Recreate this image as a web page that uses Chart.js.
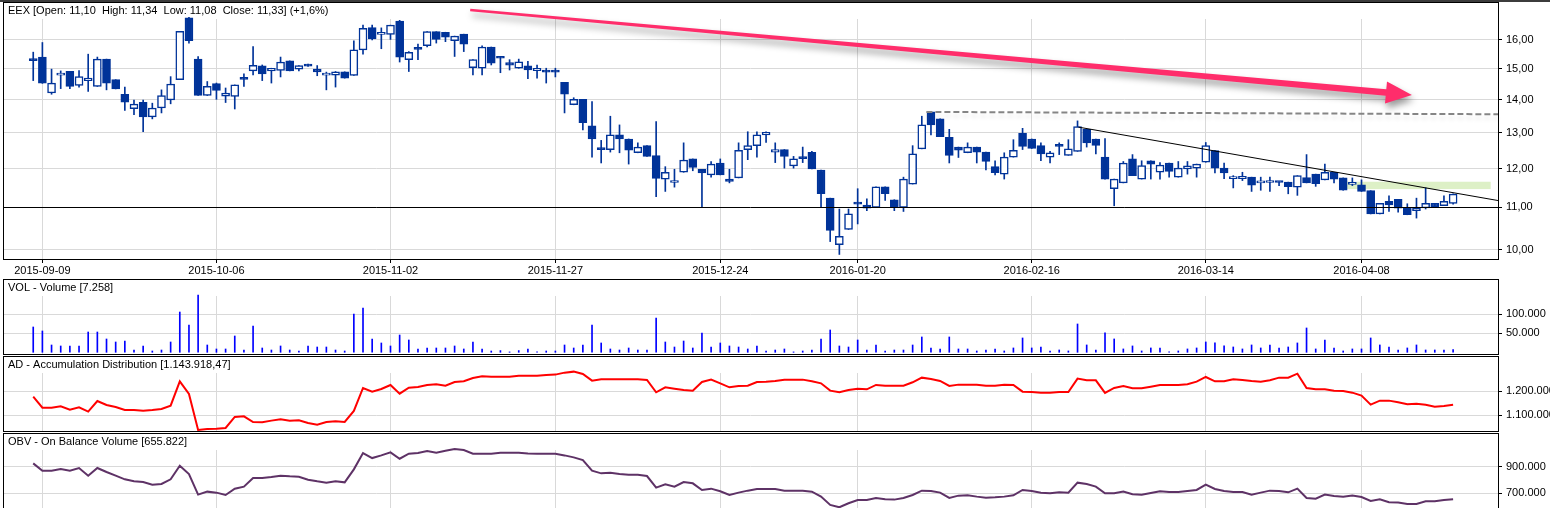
<!DOCTYPE html>
<html>
<head>
<meta charset="utf-8">
<title>EEX</title>
<script src="https://cdn.jsdelivr.net/npm/chart.js@4.4.1/dist/chart.umd.min.js"></script>
<style>
  html, body { margin: 0; padding: 0; background: #fff; overflow: hidden; }
  #wrap { position: relative; width: 1550px; height: 508px; background: #fff; }
  #topbar { position: absolute; left: 0; top: 0; width: 1550px; height: 2px; background: #3c3c3c; }
  canvas { position: absolute; left: 0; }
</style>
</head>
<body>
<div id="wrap">
  <canvas id="cMain" width="1550" height="279" style="top:0px"></canvas>
  <canvas id="cVol" width="1550" height="76" style="top:279px"></canvas>
  <canvas id="cAd" width="1550" height="76" style="top:356px"></canvas>
  <canvas id="cObv" width="1550" height="75" style="top:433px"></canvas>
  <div id="topbar"></div>
</div>
<script>
// ---- daily prices (one entry per trading session) ----
const open = [
  15.33,15.40,14.21,14.79,14.92,14.45,14.61,14.42,15.33,14.64,14.17,13.72,13.92,13.47,13.74,13.99,14.64,16.81,15.33,14.13,
  14.51,14.11,14.10,14.69,14.93,15.10,14.93,14.95,15.27,14.99,15.13,14.99,14.79,14.79,14.90,14.78,15.65,16.45,16.20,16.20,
  16.69,15.31,15.71,15.80,16.30,16.28,15.98,16.21,15.04,15.02,15.75,15.40,15.21,15.02,15.10,14.94,14.93,14.93,14.55,13.84,
  14.01,13.20,12.56,12.52,12.94,12.82,12.43,12.63,12.35,11.72,11.63,11.90,12.26,11.98,11.83,12.15,11.72,11.75,12.52,12.63,
  12.94,12.45,12.52,12.07,12.31,12.44,11.96,11.23,10.12,10.47,11.10,11.06,11.00,11.52,11.19,11.00,11.59,12.54,13.62,13.41,
  12.87,12.59,12.43,12.59,12.45,12.05,11.85,12.31,12.98,12.82,12.63,12.31,12.65,12.36,12.47,13.10,12.82,12.31,11.47,11.62,
  12.26,11.72,12.21,11.90,12.15,11.77,11.99,12.01,12.17,12.49,12.01,11.73,11.73,11.77,11.62,11.63,11.65,11.64,11.51,11.76,
  11.85,11.70,11.90,11.75,11.58,11.57,11.42,10.84,11.15,11.20,10.99,10.92,10.99,11.10,11.04,11.10
];
const high = [
  15.57,15.91,14.99,14.93,14.92,14.94,15.50,15.40,15.33,14.64,14.40,13.99,13.99,13.89,14.31,14.74,16.31,16.83,15.42,14.58,
  14.53,14.37,14.47,14.83,15.77,15.13,15.02,15.40,15.27,15.11,15.16,15.11,14.89,14.91,14.90,15.97,16.54,16.54,16.44,16.54,
  16.72,15.59,15.85,16.30,16.30,16.28,16.14,16.21,15.31,15.79,15.75,15.40,15.31,15.33,15.25,15.13,15.02,15.02,14.55,14.06,
  14.01,13.94,12.78,13.49,13.23,12.82,12.71,12.63,13.33,12.05,11.98,12.71,12.26,11.98,12.19,12.26,11.98,12.71,13.03,13.03,
  13.03,12.71,12.52,12.33,12.59,12.47,11.96,11.23,10.96,10.96,11.47,11.21,11.52,11.52,11.19,11.77,12.63,13.49,13.62,13.41,
  13.10,12.59,12.71,12.59,12.45,12.21,12.43,12.80,13.13,12.82,12.71,12.47,12.71,12.80,13.35,13.10,12.82,12.83,11.72,12.19,
  12.38,12.21,12.21,12.16,12.15,12.19,12.19,12.12,12.72,12.49,12.15,11.81,11.90,11.77,11.77,11.77,11.65,11.64,11.81,12.38,
  11.85,12.12,11.90,11.75,11.75,11.70,11.42,11.10,11.29,11.20,11.09,11.23,11.49,11.10,11.29,11.34
];
const low = [
  14.61,14.52,14.17,14.35,14.35,14.40,14.26,14.42,14.31,14.34,13.67,13.54,13.03,13.41,13.59,13.87,14.64,15.89,14.13,14.13,
  14.01,13.91,13.71,14.42,14.80,14.61,14.53,14.73,14.93,14.93,15.08,14.77,14.31,14.40,14.69,14.78,15.50,16.00,15.69,16.02,
  15.23,14.91,15.31,15.75,15.89,15.94,15.42,15.59,14.80,14.80,15.13,14.87,14.96,15.02,14.67,14.69,14.53,14.73,13.59,13.84,
  13.08,12.31,12.15,12.45,12.43,12.12,12.43,12.33,11.27,11.40,11.51,11.90,11.94,11.02,11.77,11.83,11.62,11.75,12.24,12.31,
  12.72,12.16,12.01,12.01,12.16,11.99,11.00,10.19,9.90,10.47,10.60,10.92,11.00,11.17,10.92,10.90,11.59,12.54,12.94,12.89,
  12.15,12.30,12.43,12.15,11.96,11.83,11.72,12.31,12.52,12.55,12.21,12.15,12.38,12.36,12.47,12.59,12.40,11.72,11.04,11.62,
  11.81,11.72,11.72,11.72,11.77,11.77,11.85,11.77,12.17,11.88,11.73,11.49,11.68,11.40,11.43,11.40,11.55,11.34,11.30,11.62,
  11.53,11.70,11.62,11.43,11.55,11.40,10.84,10.84,10.90,10.88,10.82,10.74,10.96,11.02,11.04,11.08
];
const close = [
  15.28,14.53,14.53,14.79,14.42,14.74,14.69,15.33,14.53,14.34,13.92,13.86,13.47,13.74,14.13,14.50,16.31,15.98,14.13,14.42,
  14.29,14.21,14.47,14.65,15.12,14.83,15.02,15.23,14.93,15.11,15.09,14.90,14.79,14.90,14.69,15.65,16.42,16.04,16.20,16.54,
  15.40,15.56,15.67,16.30,16.02,16.10,16.14,15.85,15.31,15.75,15.19,15.36,15.12,15.24,14.96,15.02,14.89,14.89,14.17,14.01,
  13.30,12.82,12.52,12.94,12.82,12.50,12.59,12.33,11.74,11.90,11.63,12.23,12.03,11.88,12.12,11.83,11.66,12.50,12.63,12.94,
  13.01,12.52,12.33,12.26,12.27,11.99,11.34,10.45,10.31,10.84,11.08,10.98,11.52,11.34,11.00,11.72,12.40,13.23,13.23,12.89,
  12.36,12.50,12.59,12.45,12.19,11.89,12.31,12.50,12.61,12.55,12.40,12.43,12.61,12.54,13.18,12.71,12.64,11.72,11.72,12.15,
  11.81,12.08,12.12,12.09,11.92,12.01,12.07,12.12,12.63,12.01,11.88,11.73,11.79,11.56,11.62,11.63,11.63,11.52,11.81,11.62,
  11.60,11.90,11.72,11.43,11.58,11.40,10.84,11.10,11.06,10.98,10.82,10.99,11.10,11.02,11.15,11.33
];

// ---- indicator panels ----
const volume = [
  66600,56100,19200,16600,16600,16600,53400,53400,35000,27100,29700,6000,16600,3400,6000,27100,106000,71900,150800,19200,
  8700,8700,42900,6000,69200,11300,6000,16600,6000,3400,16600,13900,13900,6000,3400,100800,116600,35000,24500,16600,
  45500,32400,8700,11300,11300,11300,16600,8700,27100,8700,3400,4500,1000,4500,8700,1000,3400,3400,19200,11300,
  19200,71900,24500,8700,6000,11300,6000,6000,90300,27100,13900,29700,11300,50800,13900,24500,16600,13900,8700,16600,
  3400,6000,8700,1000,3400,6000,35000,58700,16600,13900,32400,6000,19200,3400,6000,6000,19200,40300,11300,8700,
  40300,8700,8700,3400,6000,8700,3500,11400,37700,11400,14000,3500,6100,3500,74500,19300,6100,50900,35100,8800,
  16700,3500,11400,11400,900,3500,8800,11400,27200,24600,16700,14000,8800,19300,11400,19300,11400,14000,24600,64000,
  8800,32400,11400,3500,8800,8800,37700,19300,14000,6100,11400,19300,6100,6100,6100,7258
];
const adLine = [
  1177800,1131900,1131900,1137500,1123600,1133300,1115300,1159700,1143100,1134700,1122200,1122200,1119400,1122200,1126400,1140300,1241700,1188900,1038900,1043000,
  1044400,1047200,1093000,1095800,1072200,1070800,1077800,1083300,1077800,1079200,1068000,1061100,1072200,1075000,1072200,1118000,1213900,1198600,1209700,1226400,
  1190300,1215300,1218100,1226400,1229200,1223600,1238900,1241700,1255600,1262500,1261100,1261100,1261100,1265300,1265300,1265300,1268100,1269500,1277800,1281950,
  1272200,1244400,1250000,1250000,1250000,1250000,1250000,1247200,1195800,1216700,1211100,1205600,1202800,1238900,1248600,1233300,1216700,1222200,1223600,1238900,
  1240300,1243100,1248600,1248600,1248600,1241700,1233300,1202800,1195800,1205600,1211100,1208300,1226400,1223600,1223600,1223600,1237500,1256900,1251400,1243100,
  1222200,1227800,1227800,1227800,1223600,1223600,1227800,1226400,1198600,1197200,1194400,1194400,1197200,1197200,1252800,1245800,1245800,1193100,1213900,1222200,
  1212500,1212500,1219400,1226400,1226400,1226400,1229200,1240300,1259700,1241700,1241700,1250000,1247200,1243100,1240300,1245800,1256900,1256900,1273600,1213900,
  1208300,1208300,1202800,1201400,1194400,1181900,1144400,1161100,1161100,1154200,1145800,1148600,1144400,1136100,1138900,1143918.47
];
const obvLine = [
  925000,870000,870000,882500,870000,890000,832500,890000,860000,832500,805000,790000,785000,765000,770000,805000,907500,845000,690000,712500,
  705000,687500,735000,750000,815000,815000,822500,832500,827500,825000,802500,790000,780000,790000,782500,880000,1002500,965000,985000,1007500,
  960000,997500,1002500,1017500,1005000,1020000,1032500,1025000,997500,997500,997500,1005000,1005000,1005000,1000000,997500,997500,997500,985000,970000,
  950000,870000,850000,855000,845000,840000,840000,830000,742500,767500,750000,785000,775000,725000,735000,715000,687500,705000,720000,732500,
  732500,732500,720000,720000,720000,712500,675000,612500,595000,625000,650000,650000,665000,655000,652500,665000,687500,720000,717500,705000,
  665000,682500,685000,675000,667500,670000,675000,685000,725000,717500,705000,700000,707500,705000,780000,770000,750000,700000,700000,712500,
  692500,690000,702500,715000,710000,710000,717500,725000,765000,732500,717500,710000,710000,690000,705000,720000,717500,707500,735000,665000,
  660000,690000,680000,675000,682500,672500,642500,655000,632500,630000,620000,620000,640000,640000,650000,655822
];

// ---- axis labels ----
const tickIndex  = [1, 20, 39, 57, 75, 90, 109, 128, 145];
const tickLabels = ['2015-09-09','2015-10-06','2015-11-02','2015-11-27','2015-12-24','2016-01-20','2016-02-16','2016-03-14','2016-04-08'];
const priceTicks = [10, 11, 12, 13, 14, 15, 16];
const volTicks   = [50000, 100000];
const adTicks    = [1100000, 1200000];
const obvTicks   = [700000, 900000];

// ---- drawn studies on the price panel (session index, price) ----
const supportLevel = 11.00;
const trendArrow   = { from: [47.7, 17.11], to: [150.5, 14.15] };
const resistance   = { from: [97.5, 13.62], to: [159.9, 13.55] };
const trendLine    = { from: [114.1, 13.165], to: [159.9, 11.17] };
const targetZone   = { from: [143.2, 11.65], to: [159.1, 11.46] };

// ---- styling ----
const FONT = '"Liberation Sans", Arial, sans-serif';
const BLUE = '#003399';
const GRID = '#d9d9d9';
const AXIS_W = 52;
const X_MIN = -3.3, X_MAX = 159.9;

Chart.defaults.font.family = FONT;
Chart.defaults.font.size = 11;
Chart.defaults.color = '#000';

const last = close.length - 1;
const dec2 = v => v.toFixed(2).replace('.', ',');
const thousands = v => {
  const [i, d] = Math.abs(v).toFixed(Number.isInteger(v) ? 0 : 2).split('.');
  return (v < 0 ? '-' : '') + i.replace(/\B(?=(\d{3})+(?!\d))/g, '.') + (d ? ',' + d : '');
};
const pct = (close[last] / close[last - 1] - 1) * 100;
const mainTitle = 'EEX [Open: ' + dec2(open[last]) + '  High: ' + dec2(high[last]) + '  Low: ' + dec2(low[last]) +
  '  Close: ' + dec2(close[last]) + '] (' + (pct >= 0 ? '+' : '') + pct.toFixed(1).replace('.', ',') + '%)';

// axes never reserve extra room for half-labels at their ends
function noEndPadding(s) {
  s.paddingTop = 0; s.paddingBottom = 0; s.paddingLeft = 0; s.paddingRight = 0;
}

function xScale(showLabels) {
  return {
    type: 'linear', min: X_MIN, max: X_MAX, offset: false,
    afterBuildTicks: s => { s.ticks = tickIndex.map(v => ({ value: v })); },
    afterFit: s => { s.height = showLabels ? 20 : 0; noEndPadding(s); },
    grid: { color: GRID, lineWidth: 1, offset: false, drawTicks: showLabels, tickLength: 4, tickColor: '#000' },
    border: { display: false },
    ticks: {
      display: showLabels, autoSkip: false, maxRotation: 0, minRotation: 0, padding: 1,
      color: '#000', font: { family: FONT, size: 11 },
      callback: v => { const k = tickIndex.indexOf(v); return k >= 0 ? tickLabels[k] : ''; }
    }
  };
}
function yScale(type, min, max, ticks, fmt) {
  return {
    type, position: 'right', min, max,
    afterBuildTicks: s => { s.ticks = ticks.map(v => ({ value: v })); },
    afterFit: s => { s.width = AXIS_W; noEndPadding(s); },
    grid: { color: GRID, lineWidth: 1, drawTicks: true, tickLength: 4, tickColor: '#000' },
    border: { display: false },
    ticks: { padding: 4, color: '#000', font: { family: FONT, size: 11 }, callback: fmt }
  };
}

// frame, caption band and title for each panel
function panelPlugin(title, extra) {
  return {
    id: 'panel',
    beforeDatasetsDraw(chart) {
      const { ctx, chartArea: a } = chart;
      ctx.save();
      ctx.fillStyle = '#fff';
      ctx.fillRect(a.left + 1, a.top + 1, a.right - a.left - 1, 16);
      if (extra && extra.before) extra.before(chart);
      ctx.restore();
    },
    afterDatasetsDraw(chart) {
      if (extra && extra.after) { chart.ctx.save(); extra.after(chart); chart.ctx.restore(); }
    },
    afterDraw(chart) {
      const { ctx, chartArea: a } = chart;
      ctx.save();
      ctx.strokeStyle = '#000';
      ctx.lineWidth = 1;
      ctx.strokeRect(a.left + 0.5, a.top + 0.5, a.right - a.left, a.bottom - a.top);
      ctx.fillStyle = '#000';
      ctx.font = '11px ' + FONT;
      ctx.textBaseline = 'middle';
      ctx.textAlign = 'left';
      ctx.fillText(title, a.left + 5, a.top + 9);
      ctx.restore();
    }
  };
}

function drawArrow(ctx, x0, y0, x1, y1) {
  const dx = x1 - x0, dy = y1 - y0, len = Math.hypot(dx, dy);
  const ux = dx / len, uy = dy / len, nx = -uy, ny = ux;
  const headLen = 26, headHalf = 11, w0 = 1.3, w1 = 3.2;
  const bx = x1 - ux * headLen, by = y1 - uy * headLen;
  ctx.beginPath();
  ctx.moveTo(x0 + nx * w0, y0 + ny * w0);
  ctx.lineTo(bx + nx * w1, by + ny * w1);
  ctx.lineTo(bx + nx * headHalf, by + ny * headHalf);
  ctx.lineTo(x1, y1);
  ctx.lineTo(bx - nx * headHalf, by - ny * headHalf);
  ctx.lineTo(bx - nx * w1, by - ny * w1);
  ctx.lineTo(x0 - nx * w0, y0 - ny * w0);
  ctx.closePath();
  ctx.fill();
}

const studies = {
  before(chart) {
    const { ctx, scales: { x, y } } = chart;
    const x0 = x.getPixelForValue(targetZone.from[0]), x1 = x.getPixelForValue(targetZone.to[0]);
    const y0 = y.getPixelForValue(targetZone.from[1]), y1 = y.getPixelForValue(targetZone.to[1]);
    ctx.fillStyle = '#ddf0c6';
    ctx.fillRect(x0, y0, x1 - x0, y1 - y0);
  },
  after(chart) {
    const { ctx, chartArea: a, scales: { x, y } } = chart;
    const P = p => [x.getPixelForValue(p[0]), y.getPixelForValue(p[1])];

    // support
    const ys = Math.round(y.getPixelForValue(supportLevel)) + 0.5;
    ctx.strokeStyle = '#000';
    ctx.lineWidth = 1;
    ctx.beginPath(); ctx.moveTo(a.left, ys); ctx.lineTo(a.right, ys); ctx.stroke();

    // falling trend line
    let [sx, sy] = P(trendLine.from), [ex, ey] = P(trendLine.to);
    ctx.beginPath(); ctx.moveTo(sx, sy); ctx.lineTo(ex, ey); ctx.stroke();

    // resistance (dashed, soft shadow)
    ctx.save();
    [sx, sy] = P(resistance.from); [ex, ey] = P(resistance.to);
    ctx.shadowColor = 'rgba(0,0,0,0.10)';
    ctx.shadowBlur = 4;
    ctx.shadowOffsetY = 4;
    ctx.strokeStyle = '#858585';
    ctx.lineWidth = 2;
    ctx.setLineDash([6, 3]);
    ctx.beginPath(); ctx.moveTo(sx, sy); ctx.lineTo(ex, ey); ctx.stroke();
    ctx.restore();

    // direction arrow
    ctx.save();
    [sx, sy] = P(trendArrow.from); [ex, ey] = P(trendArrow.to);
    ctx.shadowColor = 'rgba(0,0,0,0.40)';
    ctx.shadowBlur = 7;
    ctx.shadowOffsetX = 2;
    ctx.shadowOffsetY = 5;
    ctx.fillStyle = '#ff2d6b';
    drawArrow(ctx, sx, sy, ex, ey);
    ctx.restore();
  }
};

const idx = close.map((_, i) => i);
const common = {
  responsive: false, animation: false, devicePixelRatio: 1, events: [],
  plugins: { legend: { display: false }, tooltip: { enabled: false } }
};

// price panel
new Chart(document.getElementById('cMain'), {
  data: {
    datasets: [
      {
        type: 'bar', order: 0, grouped: false,
        data: idx.map(i => ({ x: i, y: [open[i], close[i]] })),
        barThickness: 8, minBarLength: 2,
        backgroundColor: c => close[c.dataIndex] >= open[c.dataIndex] ? '#ffffff' : BLUE,
        borderColor: BLUE, borderWidth: 1.5, borderSkipped: false
      },
      {
        type: 'bar', order: 1, grouped: false,
        data: idx.map(i => ({ x: i, y: [low[i], high[i]] })),
        barThickness: 1, backgroundColor: BLUE, borderWidth: 0
      }
    ]
  },
  options: Object.assign({}, common, {
    layout: { padding: { left: 3, top: 2, right: 0, bottom: 0 } },
    scales: {
      x: xScale(true),
      y: yScale('logarithmic', 9.80, 17.42, priceTicks, v => dec2(v))
    }
  }),
  plugins: [panelPlugin(mainTitle, studies)]
});

// volume panel
new Chart(document.getElementById('cVol'), {
  type: 'bar',
  data: {
    datasets: [{
      data: idx.map(i => ({ x: i, y: volume[i] })),
      barThickness: 1, backgroundColor: '#0000ff', borderWidth: 0
    }]
  },
  options: Object.assign({}, common, {
    layout: { padding: { left: 3, top: 0, right: 0, bottom: 1 } },
    scales: { x: xScale(false), y: yScale('linear', -4500, 192900, volTicks, v => thousands(v)) }
  }),
  plugins: [panelPlugin('VOL - Volume [' + thousands(volume[last]) + ']')]
});

// accumulation / distribution panel
new Chart(document.getElementById('cAd'), {
  type: 'line',
  data: {
    datasets: [{
      data: idx.map(i => ({ x: i, y: adLine[i] })),
      borderColor: '#ff0000', borderWidth: 2, pointRadius: 0, tension: 0, fill: false
    }]
  },
  options: Object.assign({}, common, {
    layout: { padding: { left: 3, top: 0, right: 0, bottom: 1 } },
    scales: { x: xScale(false), y: yScale('linear', 1034600, 1347100, adTicks, v => thousands(v)) }
  }),
  plugins: [panelPlugin('AD - Accumulation Distribution [' + thousands(adLine[last]) + ']')]
});

// on-balance volume panel
new Chart(document.getElementById('cObv'), {
  type: 'line',
  data: {
    datasets: [{
      data: idx.map(i => ({ x: i, y: obvLine[i] })),
      borderColor: '#5e3266', borderWidth: 2, pointRadius: 0, tension: 0, fill: false
    }]
  },
  options: Object.assign({}, common, {
    layout: { padding: { left: 3, top: 0, right: 0, bottom: 0 } },
    scales: { x: xScale(false), y: yScale('linear', 589500, 1153400, obvTicks, v => thousands(v)) }
  }),
  plugins: [panelPlugin('OBV - On Balance Volume [' + thousands(obvLine[last]) + ']')]
});
</script>
</body>
</html>
